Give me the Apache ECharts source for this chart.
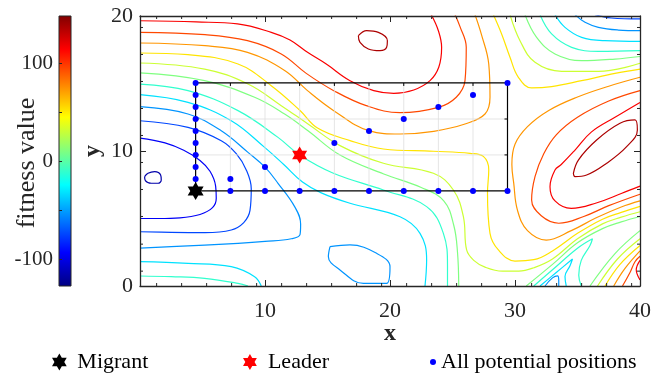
<!DOCTYPE html>
<html><head><meta charset="utf-8">
<script src="https://cdn.jsdelivr.net/npm/echarts@6/dist/echarts.min.js"></script>
<style>html,body{margin:0;padding:0;background:#fff}#c{width:667px;height:378px}</style>
</head><body><div id="c"></div>
<script>
// ---- data ----
const levels = [-116,-95,-74,-53,-32,-11,10,31,52,73,94,115,136];
const colorRange = [-127.5, 148];
const colorbarTicks = [-100,-50,0,50,100];
const colorbarLabels = [-100,0,100];
const xTicks = [10,20,30,40];
const yTicks = [0,10,20];
const xMinorTicks = [1.33,3.33,5.33,7.33,9.33,11.33,13.33,15.33,17.33,19.33,21.33,23.33,25.33,27.33,29.33,31.33,33.33,35.33,37.33,39.33];
const yMinorTicks = [1.1,3.1,5.15,7.15,9.15,11.15,13.15,15.15,17.15,19.15];

const c0 = [[0.37,8.1],[0.64,8.35],[1.17,8.47],[1.65,8.22],[1.7,7.85],[1.44,7.61],[0.9,7.61],[0.43,7.8],[0.37,8.1]];
const c1 = [[0,10.95],[2,10.6],[3.5,10.05],[4.8,9.3],[5.6,8.5],[6.05,7.4],[6.1,6.5],[5.8,5.8],[4.8,5.3],[3.2,5.05],[1.5,5.0],[0,5.0]];
const c2 = [[0,12.24],[3.84,11.75],[6.5,10.76],[7.7,9.8],[8.5,8.6],[8.9,7.2],[8.8,5.6],[8.3,4.7],[7.3,4.15],[5.2,3.95],[2.5,3.97],[0,4.02]];
const c3 = [[0,13.28],[3.84,12.74],[6.5,11.5],[8.64,9.9],[10,8.8],[11.04,7.61],[12.37,5.88],[12.85,4.6],[12.8,3.8],[12.1,3.5],[10,3.3],[7.84,3.16],[2.5,2.91],[0,2.8]];
const c3loop = [[15.2,2.91],[16.8,3.04],[18.93,2.42],[20,1.43],[19.73,0.2],[17.87,0.2],[16,1.19],[15.07,2.17],[15.2,2.91]];
const c4a = [[0,14.17],[3.84,13.6],[7.3,12.24],[9.97,10.27],[11.5,9.0],[13,7.7],[14.5,6.9],[16.8,6.13],[20.8,5.13],[22.4,3.9],[22.93,1.93],[22.8,0]];
const c4b = [[0,1.8],[3.84,1.68],[7.3,1.43],[9.17,0.69],[9.7,0]];
const c5a = [[0,14.96],[3.84,14.47],[7.84,12.99],[11.04,11.01],[12.77,9.7],[15.47,8.35],[19.47,7.11],[22.93,5.88],[24.27,3.9],[24.6,1.5],[24.6,0]];
const c5b = [[0,0.74],[2.5,0.69],[5.17,0.57],[7.84,0.2],[8.64,0]];
const c6a = [[0,15.78],[5.17,15.21],[9.17,13.98],[11.57,12.74],[13.44,11.5],[16,9.7],[19.5,8.3],[22.5,7.3],[24.3,6.3],[25.1,4.5],[25.4,2.5],[25.5,0]];
const c7a = [[0,16.52],[5.17,16.07],[8.64,14.96],[11.3,13.36],[13.44,12.0],[16,10.4],[19.47,9.09],[23.47,8.35],[25.07,7.11],[25.87,5.14],[26.13,2.67],[26.7,1.9],[27.6,1.4],[29,1.1],[30.3,1.1],[31.5,1.35],[33,2.0],[35,3.5],[37,4.6],[38.5,5.1],[40,5.5]];
const c8a = [[0,17.26],[3.84,17.14],[7.84,16.44],[10.5,14.84],[12.8,13.0],[14.2,11.7],[16.8,10.77],[19.47,10.15],[23.47,9.98],[26.4,9.83],[27.47,9.6],[27.9,8.6],[27.8,6.9],[28,3.9],[28.67,2.67],[30,1.85],[31.5,1.95],[33,2.6],[35,3.9],[37,4.95],[38.5,5.45],[40,5.9]];
const c9a = [[0,18.0],[5.2,17.8],[8.6,17.31],[11.6,15.95],[13.4,14.47],[15.5,12.99],[18.3,11.51],[20.8,11.26],[23.5,11.46],[26,12.0],[27.6,12.74],[28,13.98],[27.9,16.44],[27.3,18.67],[26.8,20.1]];
const c10a = [[0,18.79],[5.2,18.62],[8.6,18.17],[11.3,17.19],[13.3,15.75],[15.5,14.47],[18.1,13.36],[20.8,12.84],[23.87,13.23],[25.3,13.98],[26,15.21],[26.1,17.68],[25.6,19.21],[25.2,20.1]];
const c11a = [[0,19.65],[4.5,19.56],[7.8,19.41],[10.5,18.79],[12,18.22],[13.4,17.31],[14.9,16.44],[16.8,15.21],[18.7,14.47],[20.3,14.27],[21.9,14.52],[23.2,15.21],[23.9,16.2],[24.13,17.68],[23.87,18.91],[23.3,20.1]];
const c12a = [[17.47,18.54],[18.13,18.91],[19.07,18.79],[19.79,18.17],[19.73,17.68],[19.2,17.43],[18.27,17.56],[17.6,18.05],[17.47,18.54]];
const c2t = [[36.4,20.1],[37.7,19.85],[40,19.78]];
const c3t = [[34.8,20.1],[35.6,19.53],[36.67,19.16],[38.27,18.96],[40,18.91]];
const c4t = [[33.2,20.1],[34,19.16],[35.33,18.42],[37.2,18.17],[40,18.12]];
const c5t = [[32,20.1],[32.93,18.67],[34.53,17.68],[36.67,17.38],[40,17.43]];
const c6t = [[30.8,20.1],[31.73,18.42],[33.2,17.19],[35.33,16.69],[38,16.81],[40,17.0]];
const c7t = [[29.6,20.1],[30.4,18.17],[31.6,16.57],[33.73,15.9],[36.67,15.9],[40,16.5]];
const c8t = [[28.27,20.1],[28.93,18.67],[29.6,16.94],[30.27,15.46],[31.33,14.67],[32.93,14.77],[35.33,15.21],[38,15.75],[40,16.07]];
const c9r = [[40,15.46],[37.5,14.8],[35,14.0],[32.7,13.0],[31.0,11.8],[30.0,10.5],[29.75,9.0],[29.9,7.6],[30.2,5.6],[31.0,4.1],[32.5,3.4],[34.5,4.1],[36.5,5.05],[38.5,5.85],[40,6.3]];
const c10r = [[40,14.47],[37.5,13.7],[35,12.5],[33.3,11.2],[32.3,9.8],[31.6,8.1],[31.33,6.37],[32.1,5.2],[33.5,4.65],[35.5,5.15],[37.5,5.95],[40,6.8]];
const c11r = [[40,13.6],[38,12.5],[36.1,11.4],[34.8,10.07],[33.7,9.0],[33.2,8.59],[32.8,7.36],[33.2,6.3],[34.5,5.75],[36.5,6.15],[38.5,6.85],[40,7.4]];
const c12r = [[34.67,8.35],[35.07,9.33],[36.53,10.81],[38.4,12.05],[39.6,12.3],[39.79,11.56],[38.93,10.32],[37.33,9.09],[35.73,8.22],[34.8,8.1],[34.67,8.35]];
const c6b = [[30.9,0],[33,1.6],[35,3.2],[37,4.25],[38.5,4.75],[40,5.15]];
const c5c = [[31.5,0],[33,1.2],[35,2.8],[36.2,3.5],[36.0,3.0],[35.3,1.9],[35.1,0.8],[35.3,0]];
const c4c = [[32.0,0],[33.3,1.0],[34.6,2.0],[34.4,1.5],[34.0,0.7],[34.1,0]];
const c3c = [[32.4,0],[33.0,0.6],[33.4,0.75],[33.5,0.4],[33.5,0]];
const c6c = [[36.0,0],[38,2.4],[40,4.1]];
const c7b = [[36.6,0],[38.2,2.0],[40,3.5]];
const c8b = [[37.2,0],[38.4,1.6],[40,3.0]];
const c9b = [[37.9,0],[38.8,1.3],[40,2.6]];
const c10b = [[38.6,0],[39.2,1.0],[39.6,1.8],[40,2.2]];
const c11b = [[40,1.9],[39.7,1.2],[40,0.45]];

const contourLines = [
  [0,c0],[1,c1],[2,c2],[3,c3],[3,c3loop],[4,c4a],[4,c4b],[5,c5a],[5,c5b],[6,c6a],[7,c7a],[8,c8a],
  [9,c9a],[10,c10a],[11,c11a],[12,c12a],
  [2,c2t],[3,c3t],[4,c4t],[5,c5t],[6,c6t],[7,c7t],[8,c8t],
  [9,c9r],[10,c10r],[11,c11r],[12,c12r],
  [6,c6b],[5,c5c],[4,c4c],[3,c3c],[6,c6c],[7,c7b],[8,c8b],[9,c9b],[10,c10b],[11,c11b]
];

const migrant = [[4.45,7.04]];
const leader = [[12.77,9.71]];
const positions = [
  [4.45,7.04],[4.45,7.93],[4.45,8.82],[4.45,9.71],[4.45,10.6],[4.45,11.48],[4.45,12.37],[4.45,13.26],[4.45,14.15],[4.45,15.04],
  [7.23,7.04],[10,7.04],[12.77,7.04],[15.55,7.04],[18.32,7.04],[21.1,7.04],[23.87,7.04],[26.64,7.04],[29.4,7.04],
  [7.23,7.93],[10,8.82],[15.55,10.6],[18.32,11.48],[21.1,12.37],[23.87,13.26],[26.64,14.15],[29.4,15.04]
];
const insetX = [4.45, 29.4];
const insetY = [7.04, 15.04];
const insetGridX = [7.23,10,12.77,15.55,18.32,21.1,23.87,26.64];
const insetGridY = [9.71,12.37];

// ---- drawing ----
function jet(v){
  const t = (v - colorRange[0])/(colorRange[1]-colorRange[0]);
  const cl = a => Math.max(0, Math.min(1, a));
  const r = cl(1.5 - Math.abs(4*t-3)), g = cl(1.5 - Math.abs(4*t-2)), b = cl(1.5 - Math.abs(4*t-1));
  return 'rgb(' + Math.round(r*255) + ',' + Math.round(g*255) + ',' + Math.round(b*255) + ')';
}
const hexStar = 'path://M0,-10L2.887,-5L8.66,-5L5.774,0L8.66,5L2.887,5L0,10L-2.887,5L-8.66,5L-5.774,0L-8.66,-5L-2.887,-5Z';
const FONT = 'Liberation Serif';
const AX = '#262626';

const chart = echarts.init(document.getElementById('c'), null, {renderer:'canvas'});

const contourSeries = contourLines.map(([li, pts]) => ({
  type:'line', xAxisIndex:0, yAxisIndex:0, data: pts, smooth:0.4, symbol:'none',
  lineStyle:{color: jet(levels[li]), width:1.2}, silent:true, z:2, animation:false
}));

function seg(a, b, color, w){ return {type:'line', shape:{x1:a[0],y1:a[1],x2:b[0],y2:b[1]}, style:{stroke:color, lineWidth:w}}; }

const option = {
  animation:false,
  backgroundColor:'#fff',
  graphic:[
    {type:'text', x:27, y:163, rotation:Math.PI/2, silent:true,
     style:{text:'fitness value', font:'26px "Liberation Serif"', fill:AX,
            textAlign:'center', textVerticalAlign:'middle', align:'center', verticalAlign:'middle'}},
    {type:'text', x:390, y:334, silent:true,
     style:{text:'x', font:'bold 24px "Liberation Serif"', fill:AX,
            textAlign:'center', textVerticalAlign:'middle', align:'center', verticalAlign:'middle'}}
  ],
  grid:[
    {left:140, top:16, width:500, height:270, outerBoundsMode:'none'},
    {left:59, top:16, width:12, height:270, outerBoundsMode:'none'}
  ],
  xAxis:[
    {gridIndex:0, type:'value', min:0, max:40, position:'bottom', z:10,
     axisLine:{show:true, onZero:false, lineStyle:{color:AX, width:1.3}},
     axisTick:{inside:true, length:6, customValues:xTicks, lineStyle:{color:AX}},
     axisLabel:{customValues:xTicks, margin:14, fontSize:22, fontFamily:FONT, color:AX},
     splitLine:{show:false}},
    {gridIndex:0, type:'value', min:0, max:40, position:'top', z:10,
     axisLine:{show:true, onZero:false, lineStyle:{color:AX, width:1.3}},
     axisTick:{inside:true, length:6, customValues:xTicks, lineStyle:{color:AX}},
     axisLabel:{show:false}, splitLine:{show:false}},
    {gridIndex:1, type:'value', min:0, max:1, show:false}
  ],
  yAxis:[
    {gridIndex:0, type:'value', min:0, max:20, position:'left', z:10,
     axisLine:{show:true, onZero:false, lineStyle:{color:AX, width:1.3}},
     axisTick:{inside:true, length:6, customValues:yTicks, lineStyle:{color:AX}},
     axisLabel:{customValues:yTicks, margin:7, fontSize:22, fontFamily:FONT, color:AX},
     splitLine:{show:false},
     name:'y', nameLocation:'middle', nameGap:35, nameMoveOverlap:false,
     nameTextStyle:{fontWeight:'bold', fontSize:24, fontFamily:FONT, color:AX}},
    {gridIndex:0, type:'value', min:0, max:20, position:'right', z:10,
     axisLine:{show:true, onZero:false, lineStyle:{color:AX, width:1.3}},
     axisTick:{inside:true, length:6, customValues:yTicks, lineStyle:{color:AX}},
     axisLabel:{show:false}, splitLine:{show:false}},
    {gridIndex:1, type:'value', min:colorRange[0], max:colorRange[1], position:'left', z:10,
     axisLine:{show:false},
     axisTick:{inside:true, length:3, customValues:colorbarTicks, lineStyle:{color:AX}},
     axisLabel:{customValues:colorbarLabels, margin:6, fontSize:21, fontFamily:FONT, color:AX},
     splitLine:{show:false}}
  ],
  legend:[
    {data:[{name:'Migrant', icon:hexStar}], left:47, top:346, itemWidth:26, itemHeight:17,
     textStyle:{fontSize:22, fontFamily:FONT, color:'#000'}, selectedMode:false},
    {data:[{name:'Leader', icon:hexStar}], left:238, top:346, itemWidth:26, itemHeight:16,
     textStyle:{fontSize:22, fontFamily:FONT, color:'#000'}, selectedMode:false},
    {data:[{name:'All potential positions', icon:'circle'}], left:425, top:346, itemWidth:6, itemHeight:6,
     textStyle:{fontSize:22, fontFamily:FONT, color:'#000'}, selectedMode:false}
  ],
  series: [
    ...contourSeries,
    {type:'custom', name:'colorbar', xAxisIndex:2, yAxisIndex:2, data:[[0, colorRange[0]]], silent:true, z:1,
     renderItem:(params, api) => {
       const top = api.coord([0, colorRange[1]]), bot = api.coord([1, colorRange[0]]);
       return {type:'rect', shape:{x:top[0], y:top[1], width:bot[0]-top[0], height:bot[1]-top[1]},
         style:{stroke:AX, lineWidth:1, fill:new echarts.graphic.LinearGradient(0,1,0,0,[
           {offset:0,color:'#000080'},{offset:0.125,color:'#0000ff'},{offset:0.375,color:'#00ffff'},
           {offset:0.625,color:'#ffff00'},{offset:0.875,color:'#ff0000'},{offset:1,color:'#800000'}])}};
     }},
    {type:'custom', name:'xminor', xAxisIndex:0, yAxisIndex:0, data:xMinorTicks.map(v=>[v,0]), silent:true, z:9, clip:false,
     renderItem:(params, api) => {
       const x = api.value(0), b = api.coord([x,0]), t = api.coord([x,20]);
       return {type:'group', children:[seg(b,[b[0],b[1]-3],AX,1), seg(t,[t[0],t[1]+3],AX,1)]};
     }},
    {type:'custom', name:'yminor', xAxisIndex:0, yAxisIndex:0, data:yMinorTicks.map(v=>[0,v]), silent:true, z:9, clip:false,
     renderItem:(params, api) => {
       const y = api.value(1), l = api.coord([0,y]), r = api.coord([40,y]);
       return {type:'group', children:[seg(l,[l[0]+3,l[1]],AX,1), seg(r,[r[0]-3,r[1]],AX,1)]};
     }},
    {type:'custom', name:'inset', xAxisIndex:0, yAxisIndex:0, data:[[insetX[0], insetY[0]]], silent:true, z:5, clip:false,
     renderItem:(params, api) => {
       const p = (x,y) => api.coord([x,y]);
       const ch = [];
       insetGridX.forEach(x => { ch.push(seg(p(x,insetY[0]), p(x,insetY[1]), '#dedede', 0.8)); });
       insetGridY.forEach(y => { ch.push(seg(p(insetX[0],y), p(insetX[1],y), '#dedede', 0.8)); });
       insetGridX.forEach(x => { const t=p(x,insetY[1]); ch.push(seg(t,[t[0],t[1]+3],'#000',1)); const b=p(x,insetY[0]); ch.push(seg(b,[b[0],b[1]-3],'#000',1)); });
       insetGridY.forEach(y => { const r=p(insetX[1],y); ch.push(seg(r,[r[0]-3,r[1]],'#000',1)); const l=p(insetX[0],y); ch.push(seg(l,[l[0]+3,l[1]],'#000',1)); });
       const a = p(insetX[0],insetY[1]), b = p(insetX[1],insetY[0]);
       ch.push({type:'rect', shape:{x:a[0],y:a[1],width:b[0]-a[0],height:b[1]-a[1]}, style:{fill:'none', stroke:'#000', lineWidth:1.2}});
       return {type:'group', children:ch};
     }},
    {type:'scatter', name:'All potential positions', xAxisIndex:0, yAxisIndex:0, data:positions, symbol:'circle', symbolSize:6,
     itemStyle:{color:'#0000ff', opacity:1}, z:6, silent:true},
    {type:'scatter', name:'Migrant', xAxisIndex:0, yAxisIndex:0, data:migrant, symbol:hexStar, symbolSize:[16,18],
     itemStyle:{color:'#000', opacity:1}, z:7, silent:true},
    {type:'scatter', name:'Leader', xAxisIndex:0, yAxisIndex:0, data:leader, symbol:hexStar, symbolSize:[15,17],
     itemStyle:{color:'#ff0000', opacity:1}, z:7, silent:true}
  ]
};
chart.setOption(option);
</script></body></html>
